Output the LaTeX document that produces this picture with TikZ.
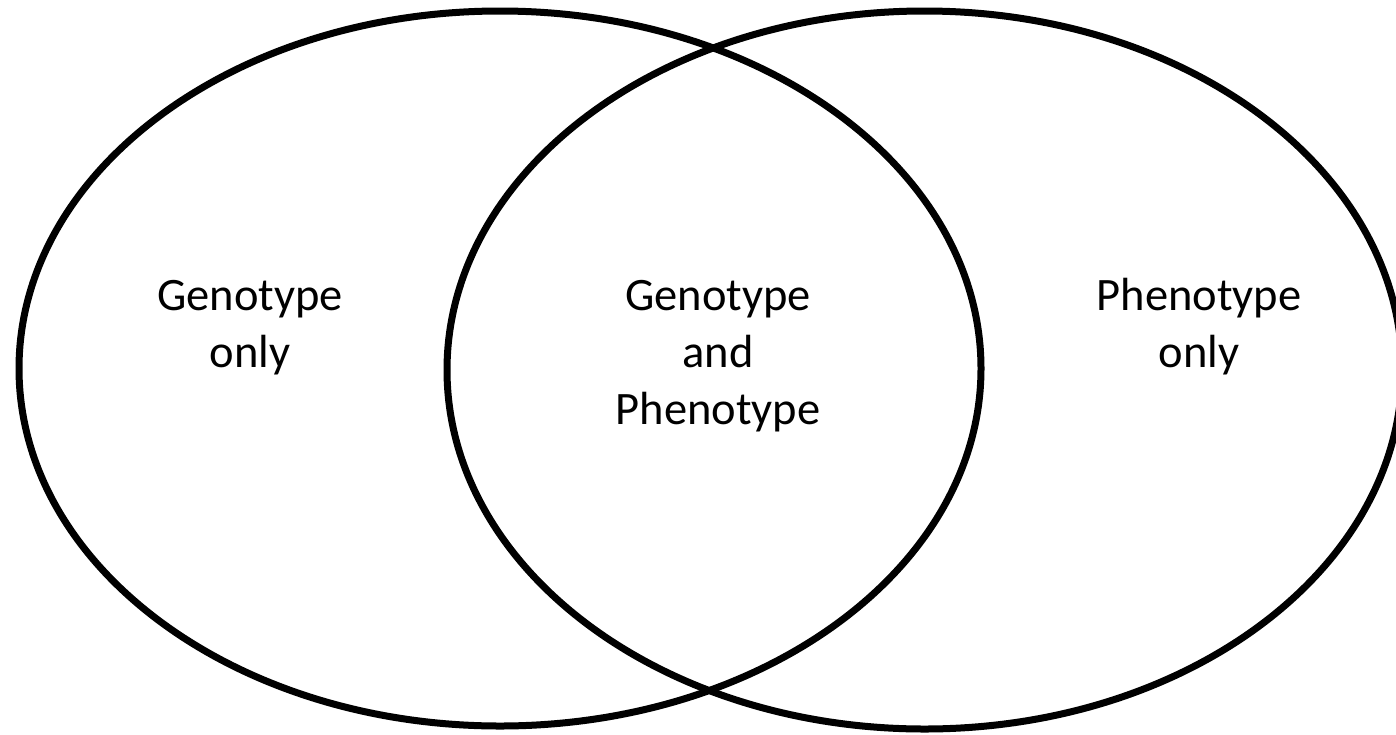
\documentclass[tikz,border=0pt]{standalone}
\usepackage{fontspec}
\setmainfont{Carlito}
\begin{document}
\begin{tikzpicture}[x=0.5pt,y=-0.5pt,line width=3.5pt]
	\fontsize{23.25}{28.5}\selectfont
	% frame
	\clip (0,0) rectangle (1396,734);
	\fill[white] (0,0) rectangle (1396,734);

	% sets
	\draw (500,368.5) ellipse [x radius=481, y radius=357.5]; % genotype
	\draw (924.5,370) ellipse [x radius=477.5, y radius=359]; % phenotype

	% labels (anchored at the last line)
	\node[align=center, anchor=base] (genonly)  at (250,367) {Genotype\\only};
	\node[align=center, anchor=base] (both)     at (718,424) {Genotype\\and\\Phenotype};
	\node[align=center, anchor=base] (phenonly) at (1199,367) {Phenotype\\only};
\end{tikzpicture}
\end{document}
